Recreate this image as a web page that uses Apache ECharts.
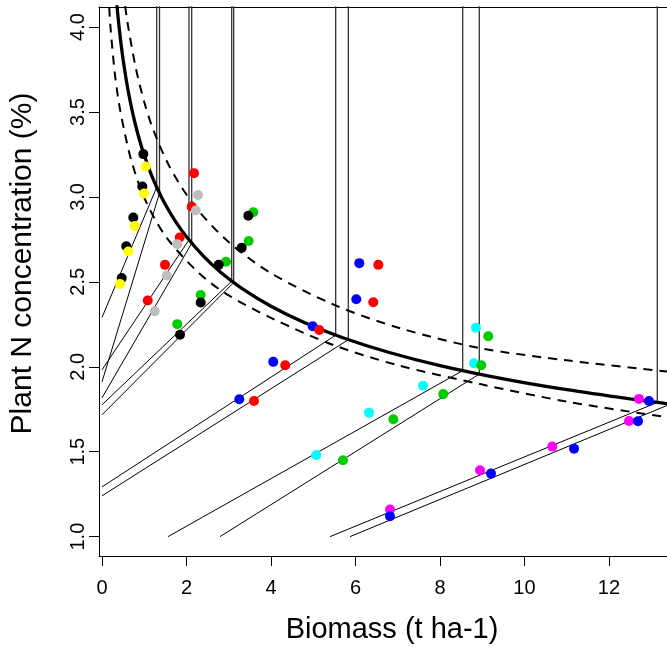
<!DOCTYPE html>
<html>
<head>
<meta charset="utf-8">
<script src="https://cdn.jsdelivr.net/npm/echarts@6/dist/echarts.min.js"></script>
<style>html,body{margin:0;padding:0;background:#fff}#c{width:667px;height:650px}</style>
</head>
<body>
<div id="c"></div>
<script>
// ---- tick labels ----
const xTicks = [0, 2, 4, 6, 8, 10, 12];
const yTicks = [1.0, 1.5, 2.0, 2.5, 3.0, 3.5, 4.0];

// ---- critical curve (solid) and bounds (dashed) ----
const thickX = [0.33,0.36,0.4,0.45,0.5,0.56,0.63,0.71,0.8,0.9,1.0,1.15,1.3,1.5,1.75,2.0,2.4,2.8,3.3,4.0,4.8,5.7,6.8,8.0,9.5,11,12.5,13.5];
const thickY = [4.192,4.109,4.010,3.902,3.808,3.710,3.610,3.512,3.416,3.325,3.245,3.142,3.054,2.955,2.851,2.765,2.651,2.558,2.463,2.356,2.259,2.171,2.084,2.007,1.929,1.865,1.811,1.779];
const upperX = [0.5,0.6,0.8,1.0,1.214,1.6,2.2,3.0,4.0,5.5,7.053,8.947,11,13.37,14];
const upperY = [4.216,4.032,3.759,3.559,3.395,3.178,2.944,2.734,2.551,2.364,2.227,2.110,2.038,1.972,1.957];
const lowerX = [0.15,0.2,0.3,0.4,0.523,0.7,1.0,1.5,2.3,3.0,4.1,5.5,6.975,8.95,11,13.37,14];
const lowerY = [4.208,4.004,3.735,3.554,3.394,3.209,2.995,2.770,2.550,2.420,2.276,2.126,2.011,1.898,1.795,1.703,1.682];

// ---- dilution lines: start point and end point (on the curve) ----
const segX0 = [0, 0, 0, 0, 0, 0, 0, 0, 1.562, 2.793, 5.396, 5.870];
const segY0 = [2.290, 1.911, 1.982, 1.817, 1.776, 1.717, 1.293, 1.240, 1.0, 1.0, 1.0, 1.0];
const segX1 = [1.295, 1.361, 2.059, 2.123, 3.070, 3.117, 5.531, 5.830, 8.537, 8.930, 13.143, 13.45];
const segY1 = [3.057, 3.022, 2.747, 2.727, 2.504, 2.496, 2.186, 2.159, 1.977, 1.957, 1.790, 1.780];
const topY = 4.3;

// ---- observed points ----
const g1BlackX = [0.978,0.954,0.741,0.575,0.466];
const g1BlackY = [3.252,3.061,2.879,2.710,2.522];
const g1YellowX = [1.034,0.994,0.774,0.622,0.426];
const g1YellowY = [3.179,3.020,2.828,2.679,2.488];
const g2RedX = [2.178,2.123,1.839,1.491,1.082];
const g2RedY = [3.140,2.942,2.761,2.600,2.390];
const g2GreyX = [2.272,2.218,1.782,1.531,1.247];
const g2GreyY = [3.011,2.920,2.722,2.537,2.327];
const g3GreenX = [3.581,3.472,2.935,2.336,1.782];
const g3GreenY = [2.910,2.740,2.618,2.422,2.251];
const g3BlackX = [3.463,3.306,2.762,2.336,1.846];
const g3BlackY = [2.889,2.700,2.600,2.378,2.188];
const g4BlueX = [6.090,6.019,4.987,4.054,3.250];
const g4BlueY = [2.610,2.398,2.239,2.029,1.809];
const g4RedX = [6.540,6.421,5.143,4.338,3.598];
const g4RedY = [2.600,2.380,2.217,2.009,1.799];
const g5CyanX = [8.852,8.805,7.598,6.320,5.072];
const g5CyanY = [2.229,2.021,1.889,1.729,1.481];
const g5GreenX = [9.143,8.977,8.078,6.895,5.704];
const g5GreenY = [2.180,2.009,1.839,1.691,1.450];
const g6MagentaX = [12.710,12.473,10.658,8.947,6.817];
const g6MagentaY = [1.811,1.681,1.530,1.391,1.16];
const g6BlueX = [12.947,12.686,11.172,9.207,6.817];
const g6BlueY = [1.799,1.680,1.518,1.371,1.12];

const zip = (xs, ys) => xs.map((x, i) => [x, ys[i]]);
const series = [];
const font = "'Liberation Sans', Arial, sans-serif";

series.push({type:'line', data: zip(thickX, thickY), smooth: 0.25, showSymbol:false, lineStyle:{color:'#000', width:3.3}, z:3, silent:true});
series.push({type:'line', data: zip(upperX, upperY), smooth: 0.3, showSymbol:false, lineStyle:{color:'#000', width:2, type:[9,7]}, z:3, silent:true});
series.push({type:'line', data: zip(lowerX, lowerY), smooth: 0.3, showSymbol:false, lineStyle:{color:'#000', width:2, type:[9,7]}, z:3, silent:true});

for (let i = 0; i < segX0.length; i++) {
  series.push({type:'line', data: [[segX0[i], segY0[i]], [segX1[i], segY1[i]]], showSymbol:false, lineStyle:{color:'#000', width:1}, z:2, silent:true});
  series.push({type:'line', data: [[segX1[i], segY1[i]], [segX1[i], topY]], showSymbol:false, lineStyle:{color:'#333', width:1.3}, z:2, silent:true});
}

const pts = [
  [g1BlackX, g1BlackY, '#000000'], [g1YellowX, g1YellowY, '#FFFF00'],
  [g2RedX, g2RedY, '#FF0000'], [g2GreyX, g2GreyY, '#BEBEBE'],
  [g3GreenX, g3GreenY, '#00CD00'], [g3BlackX, g3BlackY, '#000000'],
  [g4BlueX, g4BlueY, '#0000FF'], [g4RedX, g4RedY, '#FF0000'],
  [g5CyanX, g5CyanY, '#00FFFF'], [g5GreenX, g5GreenY, '#00CD00'],
  [g6MagentaX, g6MagentaY, '#FF00FF'], [g6BlueX, g6BlueY, '#0000FF']
];
pts.forEach(p => series.push({type:'scatter', data: zip(p[0], p[1]), symbol:'circle', symbolSize:10, itemStyle:{color:p[2], opacity:1}, z:5, silent:true}));

const chart = echarts.init(document.getElementById('c'), null, {renderer:'canvas'});
chart.setOption({
  animation:false,
  backgroundColor:'#fff',
  grid:{left:99, top:7, right:0, bottom:94, show:false},
  xAxis:[{type:'value', min:-0.071, max:13.373, splitLine:{show:false},
    axisLine:{show:true, onZero:false, lineStyle:{color:'#000', width:1}},
    axisTick:{show:true, length:10, lineStyle:{color:'#000'}, customValues:xTicks},
    axisLabel:{customValues:xTicks, fontSize:20, color:'#000', fontFamily:font, margin:22},
    name:'Biomass (t ha-1)', nameLocation:'middle', nameGap:59, nameTextStyle:{fontSize:29, color:'#000', fontFamily:font, padding:[0,0,0,18]}},
   {type:'value', position:'top', min:-0.071, max:13.373, splitLine:{show:false},
    axisLine:{show:true, onZero:false, lineStyle:{color:'#000', width:1}}, axisTick:{show:false}, axisLabel:{show:false}}],
  yAxis:{type:'value', min:0.886, max:4.118, splitLine:{show:false},
    axisLine:{show:true, onZero:false, lineStyle:{color:'#000', width:1}},
    axisTick:{show:true, length:10, lineStyle:{color:'#000'}, customValues:yTicks},
    axisLabel:{customValues:yTicks, rotate:90, fontSize:20, color:'#000', fontFamily:font, margin:11, formatter:v=>v.toFixed(1)},
    name:'Plant N concentration (%)', nameLocation:'middle', nameGap:61, nameRotate:90, nameTextStyle:{fontSize:30, color:'#000', fontFamily:font, padding:[0,0,0,36]}},
  series: series
});
</script>
</body>
</html>
